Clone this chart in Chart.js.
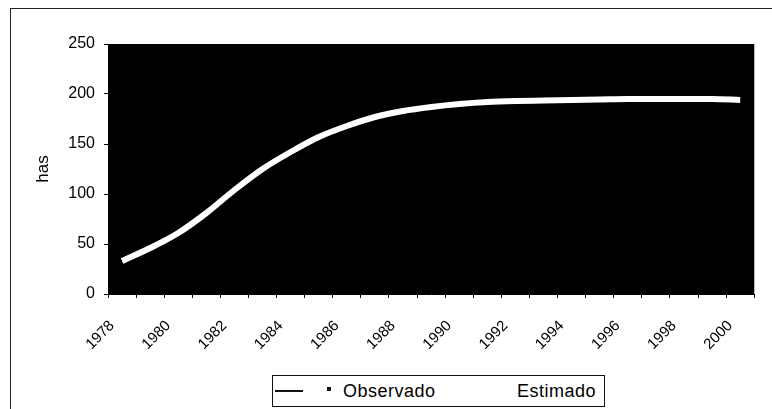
<!DOCTYPE html>
<html>
<head>
<meta charset="utf-8">
<script src="https://cdn.jsdelivr.net/npm/chart.js@4"></script>
<style>
  html, body { margin: 0; padding: 0; background: #fff; }
  #wrap { position: relative; width: 772px; height: 409px; overflow: hidden; }
  #frame { position: absolute; left: 10px; top: 8px; width: 900px; height: 600px;
           border-top: 1px solid #222; border-left: 1px solid #222; box-sizing: border-box; }
  canvas { position: absolute; left: 0; top: 0; }
  #legend { position: absolute; left: 272px; top: 375px; width: 333px; height: 32px;
            border: 1px solid #111; box-sizing: border-box; background: #fff;
            font-family: "Liberation Sans", Arial, sans-serif; font-size: 18px; color: #000; }
  #legend .item { position: absolute; top: 5px; white-space: nowrap; letter-spacing: 0.5px; }
  #legend .swatch { position: absolute; }
</style>
</head>
<body>
<div id="wrap">
  <div id="frame"></div>
  <canvas id="c" width="772" height="409"></canvas>
  <div id="legend"></div>
</div>
<script>
// Years on the category axis
const years = ['1978','1979','1980','1981','1982','1983','1984','1985','1986','1987','1988',
               '1989','1990','1991','1992','1993','1994','1995','1996','1997','1998','1999','2000'];
// Fitted (estimated) area, hectares
const estimado = [33, 46, 61, 81, 104, 125, 142, 157, 168, 177, 183,
                  187, 190, 192, 193, 193.5, 194, 194.5, 195, 195, 195, 195, 194];
// Legend entries
const seriesNames = ['Observado', 'Estimado'];
// Y axis ticks
const yTicks = [0, 50, 100, 150, 200, 250];

// Legend built from the series names
const legend = document.getElementById('legend');
legend.innerHTML =
  '<div class="swatch" style="left:2px;top:14px;width:28px;height:2px;background:#111"></div>' +
  '<div class="swatch" style="left:54px;top:11px;width:4px;height:4px;background:#111"></div>' +
  '<div class="item" style="left:70px">' + seriesNames[0] + '</div>' +
  '<div class="item" style="left:244px">' + seriesNames[1] + '</div>';

const plotBg = {
  id: 'plotBg',
  beforeDraw(chart) {
    const { ctx, chartArea: a } = chart;
    ctx.save();
    ctx.fillStyle = '#000';
    ctx.fillRect(a.left, a.top, a.right - a.left, a.bottom - a.top);
    ctx.restore();
  }
};

new Chart(document.getElementById('c'), {
  type: 'line',
  data: {
    labels: years,
    datasets: [{
      label: seriesNames[1],
      data: estimado,
      borderColor: '#fff',
      borderWidth: 6,
      pointRadius: 0,
      cubicInterpolationMode: 'monotone',
      fill: false
    }]
  },
  options: {
    responsive: false,
    animation: false,
    layout: { padding: { top: 44, right: 2, left: 0, bottom: 0 } },
    plugins: { legend: { display: false }, tooltip: { enabled: false } },
    scales: {
      x: {
        type: 'category',
        offset: true,
        afterFit(scale) { scale.height = 115; },
        grid: { offset: true, drawOnChartArea: false, drawTicks: true, tickLength: 4, color: '#000' },
        border: { display: true, color: '#000', width: 1 },
        ticks: {
          autoSkip: false, maxRotation: 45, minRotation: 45,
          labelOffset: -10, padding: 19,
          color: '#000',
          font: { family: '"Liberation Sans", Arial, sans-serif', size: 15 },
          callback(v, i) { const y = years[i]; return (Number(y) % 2 === 0) ? y : ''; }
        }
      },
      y: {
        min: 0, max: 250,
        afterFit(scale) { scale.width = 108; },
        afterBuildTicks(scale) { scale.ticks = yTicks.map(v => ({ value: v })); },
        grid: { drawOnChartArea: false, drawTicks: true, tickLength: 4, color: '#000' },
        border: { display: true, color: '#000', width: 1 },
        ticks: {
          padding: 9, color: '#000',
          font: { family: '"Liberation Sans", Arial, sans-serif', size: 16 }
        },
        title: {
          display: true, text: 'has', color: '#000',
          font: { family: '"Liberation Sans", Arial, sans-serif', size: 17 },
          padding: { top: 33, bottom: 0 }
        }
      }
    }
  },
  plugins: [plotBg]
});
</script>
</body>
</html>
